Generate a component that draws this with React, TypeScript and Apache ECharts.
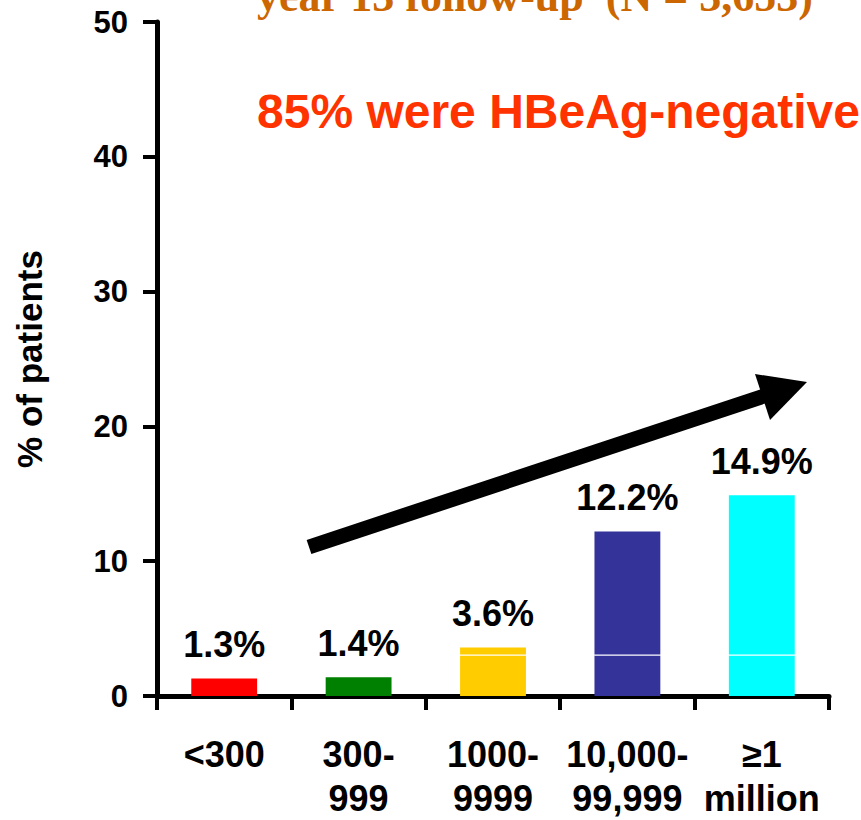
import React, { useEffect, useRef } from "react";
import * as echarts from "echarts";

const categories = ["<300", "300-\n999", "1000-\n9999", "10,000-\n99,999", "≥1\nmillion"];
const totals = [1.3, 1.4, 3.6, 12.2, 14.9];
const lowerPart = [1.3, 1.4, 3.0, 3.0, 3.0];
const separator = [0, 0, 0.08, 0.08, 0.08];
const barColors = ["#FF0000", "#008000", "#FFCC00", "#333399", "#00FFFF"];
const yTicks = { min: 0, max: 50, interval: 10 };
const headline = "85% were HBeAg-negative";
const topTitle = "year 13 follow-up  (N = 3,653)";
const yName = "% of patients";

const SANS = "'Liberation Sans', Arial, Helvetica, sans-serif";

export default function App() {
  const ref = useRef<HTMLDivElement>(null);
  useEffect(() => {
    document.body.style.margin = "0";
    const chart = echarts.init(ref.current!, null, { renderer: "svg" });
    const labelStyle = {
      show: true,
      position: "top",
      distance: 16,
      fontFamily: SANS,
      fontWeight: "bold",
      fontSize: 36,
      color: "#000",
    };
    const upper = totals.map((t, i) => +(t - lowerPart[i] - separator[i]).toFixed(3));
    const baseData = lowerPart.map((v, i) => ({
      value: v,
      itemStyle: { color: barColors[i] },
      label: upper[i] > 0 ? { show: false } : { ...labelStyle, formatter: () => totals[i].toFixed(1) + "%" },
    }));
    const sepData = separator.map((v) => ({ value: v, itemStyle: { color: "#FFFFFF" } }));
    const upperData = upper.map((v, i) => ({
      value: v,
      itemStyle: { color: barColors[i] },
      label: v > 0 ? { ...labelStyle, formatter: () => totals[i].toFixed(1) + "%" } : { show: false },
    }));
    chart.setOption({
      animation: false,
      backgroundColor: "#FFFFFF",
      grid: { left: 157, right: 32, top: 22, bottom: 118, containLabel: false },
      xAxis: {
        type: "category",
        data: categories,
        axisLine: { lineStyle: { color: "#000", width: 5 } },
        axisTick: { show: true, length: 14, lineStyle: { color: "#000", width: 4 } },
        axisLabel: {
          interval: 0,
          margin: 36,
          fontFamily: SANS,
          fontWeight: "bold",
          fontSize: 36,
          lineHeight: 44,
          color: "#000",
        },
      },
      yAxis: {
        type: "value",
        min: yTicks.min,
        max: yTicks.max,
        interval: yTicks.interval,
        name: yName,
        nameLocation: "middle",
        nameGap: 110,
        nameRotate: 90,
        nameTextStyle: { fontFamily: SANS, fontWeight: "bold", fontSize: 35, color: "#000" },
        axisLine: { show: true, lineStyle: { color: "#000", width: 5 } },
        axisTick: { show: true, length: 14, lineStyle: { color: "#000", width: 4 } },
        axisLabel: { margin: 29, fontFamily: SANS, fontWeight: "bold", fontSize: 31, color: "#000" },
        splitLine: { show: false },
      },
      series: [
        { type: "bar", stack: "s", barWidth: "49%", data: baseData },
        { type: "bar", stack: "s", barWidth: "49%", data: sepData },
        { type: "bar", stack: "s", barWidth: "49%", data: upperData },
      ],
      graphic: [
        {
          type: "text",
          left: 257,
          top: -26,
          style: {
            text: topTitle,
            fontFamily: "'Liberation Serif', 'Times New Roman', serif",
            fontWeight: "bold",
            fontSize: 44,
            fill: "#CC6600",
          },
        },
        {
          type: "text",
          left: 257,
          top: 87,
          style: {
            text: headline,
            fontFamily: SANS,
            fontWeight: "bold",
            fontSize: 48,
            fill: "#FF3300",
          },
        },
        {
          type: "line",
          shape: { x1: 309, y1: 547, x2: 764, y2: 396 },
          style: { stroke: "#000", lineWidth: 15 },
        },
        {
          type: "polygon",
          shape: { points: [[755, 374], [807, 382], [770, 420]] },
          style: { fill: "#000" },
        },
      ],
    });
    return () => chart.dispose();
  }, []);
  return <div ref={ref} style={{ width: 861, height: 820 }} />;
}
